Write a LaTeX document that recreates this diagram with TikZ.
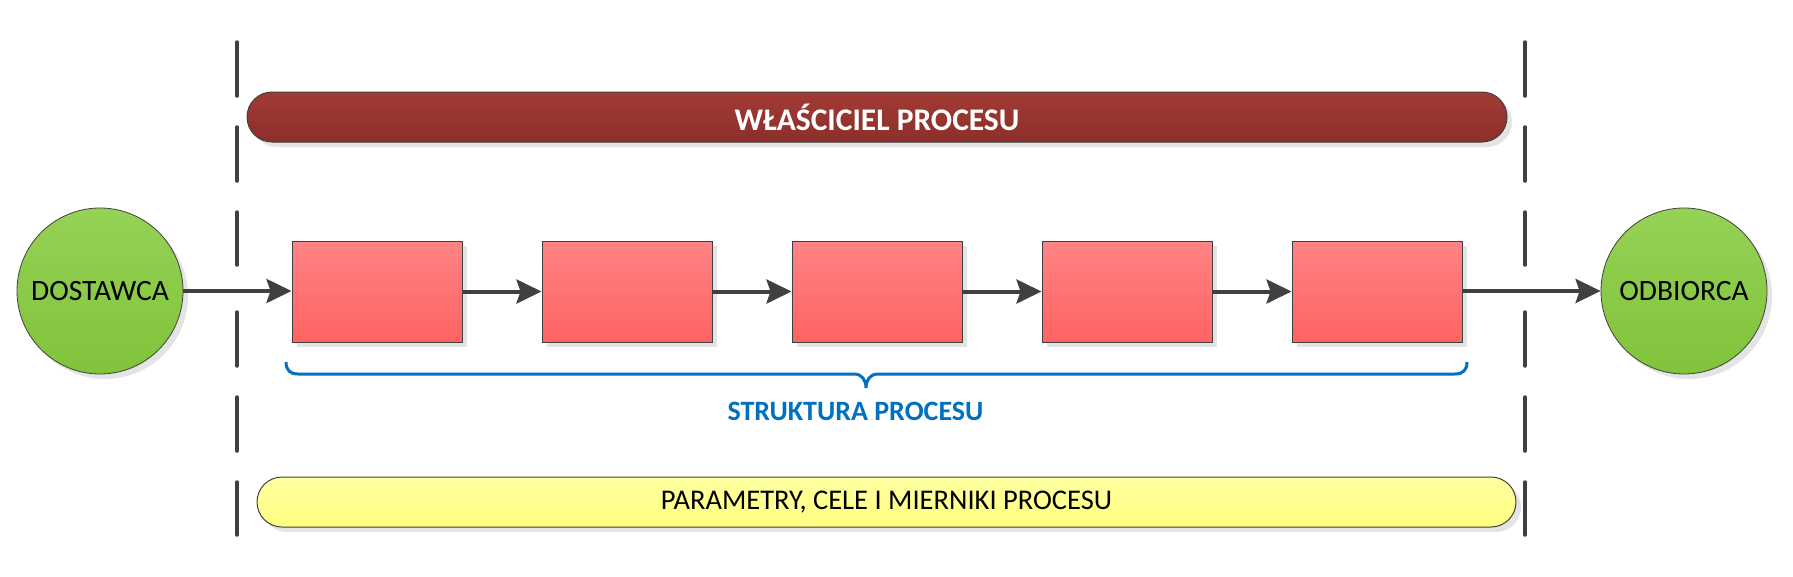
\documentclass[tikz,border=0pt]{standalone}
\usepackage{fontspec}
\setmainfont{Carlito}
\usetikzlibrary{positioning,shadows,arrows.meta}

\definecolor{linegray}{HTML}{404040}
\definecolor{ownertop}{HTML}{A33A34}
\definecolor{ownerbot}{HTML}{8B2F2B}
\definecolor{steptop}{HTML}{FF8484}
\definecolor{stepbot}{HTML}{FF6262}
\definecolor{partytop}{HTML}{95D255}
\definecolor{partybot}{HTML}{80C33B}
\definecolor{paramtop}{HTML}{FFFFA0}
\definecolor{parambot}{HTML}{FFFF80}
\definecolor{structblue}{HTML}{0070C0}
\definecolor{shadowgray}{HTML}{E4E4E4}

\tikzset{
  boxshadow/.style={drop shadow={shadow xshift=5pt,shadow yshift=-5pt,fill=shadowgray,opacity=1}},
  party/.style={circle,draw=linegray,line width=0.8pt,minimum size=166pt,inner sep=0pt,
    top color=partytop,bottom color=partybot,font=\fontsize{29.5}{32}\selectfont,boxshadow},
  stepbox/.style={rectangle,draw=linegray,line width=1pt,minimum width=170pt,
    minimum height=101pt,inner sep=0pt,top color=steptop,bottom color=stepbot,boxshadow},
  bar/.style={rectangle,rounded corners=25pt,draw=linegray,line width=1pt,
    minimum height=50pt,inner sep=0pt,boxshadow},
  flow/.style={draw=linegray,line width=4pt,-{Stealth[length=25pt,width=24pt,inset=4pt]}},
  border/.style={draw=linegray,line width=3.5pt,line cap=round}
}

\begin{document}
\begin{tikzpicture}[x=1pt,y=-1pt]
\useasboundingbox (0,0) rectangle (1793,576);
% boundaries of the process
\foreach \a/\b in {42/96,127/181,212/265,312/366,397/451,482/535} {
  \draw[border] (237,\a) -- (237,\b);
  \draw[border] (1525,\a) -- (1525,\b);
}
% bars
\node[bar,top color=ownertop,bottom color=ownerbot,minimum width=1260pt,
  text=white,font=\bfseries\fontsize{31.5}{34}\selectfont] (owner) at (877,117) {WŁAŚCICIEL PROCESU};
\node[bar,top color=paramtop,bottom color=parambot,minimum width=1259pt,
  font=\fontsize{28.5}{31}\selectfont] (params) at (886.5,502) {PARAMETRY, CELE I MIERNIKI PROCESU};
% supplier, steps, receiver
\node[party] (src) at (100,291) {DOSTAWCA};
\node[stepbox] (b1) at (377,291.5) {};
\node[stepbox,right=79pt of b1] (b2) {};
\node[stepbox,right=79pt of b2] (b3) {};
\node[stepbox,right=79pt of b3] (b4) {};
\node[stepbox,right=79pt of b4] (b5) {};
\node[party] (dst) at (1684,291) {ODBIORCA};
\draw[flow] (src.east) -- (b1.west |- src.east);
\draw[flow] (b1) -- (b2);
\draw[flow] (b2) -- (b3);
\draw[flow] (b3) -- (b4);
\draw[flow] (b4) -- (b5);
\draw[flow] (b5.east |- dst.west) -- (dst.west);
% structure brace
\draw[structblue,line width=3pt] (286,362) .. controls (286,370) and (290,374) .. (298,374)
  -- (854,374) .. controls (862,374) and (866,380) .. (866,388)
  .. controls (866,380) and (870,374) .. (878,374)
  -- (1455,374) .. controls (1463,374) and (1467,370) .. (1467,362);
\node[anchor=base,text=structblue,font=\bfseries\fontsize{28}{30}\selectfont] (struct) at (855.5,420) {STRUKTURA PROCESU};
\end{tikzpicture}
\end{document}
